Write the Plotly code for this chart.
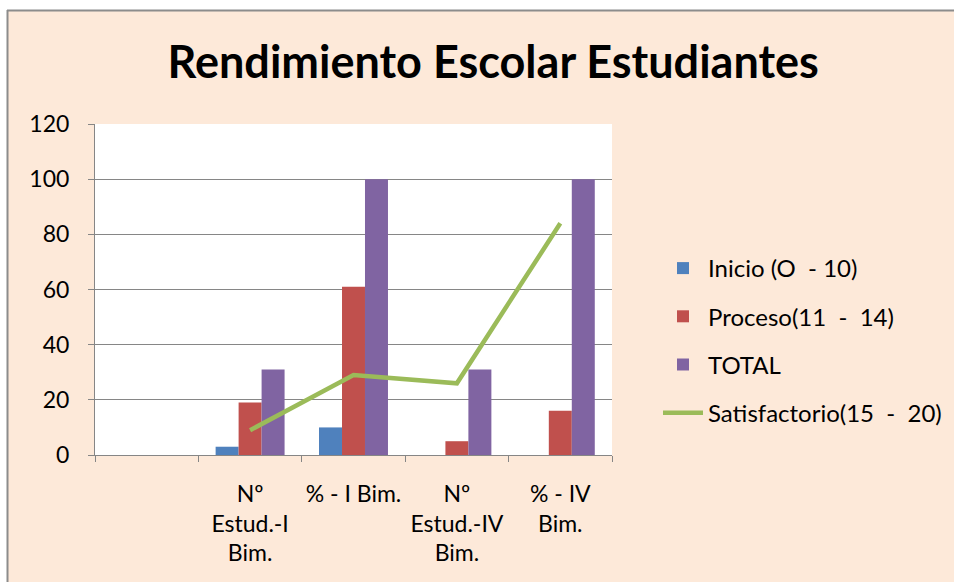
import plotly.graph_objects as go

categories = [" ", "Nº<br>Estud.-I<br>Bim.", "% - I Bim.", "Nº<br>Estud.-IV<br>Bim.", "% - IV<br>Bim."]
inicio = [0, 3, 10, 0, 0]
proceso = [0, 19, 61, 5, 16]
total = [0, 31, 100, 31, 100]
satisfactorio = [None, 9, 29, 26, 84]

series_names = ["Inicio (O\u00a0 - 10)", "Proceso(11\u00a0 -\u00a0 14)", "TOTAL", "Satisfactorio(15\u00a0 -\u00a0 20)"]
colors = ["#4F81BD", "#C0504D", "#8064A2", "#9BBB59"]

FONT = "Lato"
W, H = 954, 582
L, R, T, B = 95, 612, 124, 455

fig = go.Figure()
for name, vals, c in zip(series_names[:3], [inicio, proceso, total], colors[:3]):
    fig.add_trace(go.Bar(x=categories, y=vals, name=name, marker=dict(color=c, line=dict(width=0)),
                         legendgroup=name))
fig.add_trace(go.Scatter(x=categories, y=satisfactorio, name=series_names[3], mode="lines",
                         line=dict(color=colors[3], width=4.5), legendgroup=series_names[3]))

def px_x(p):
    return (p - L) / (R - L)

def px_y(p):
    return (B - p) / (B - T)

shapes = [
    dict(type="rect", xref="paper", yref="paper", x0=px_x(0), x1=px_x(W), y0=px_y(10), y1=px_y(0),
         fillcolor="white", line=dict(width=0), layer="below"),
    dict(type="rect", xref="paper", yref="paper", x0=px_x(0), x1=px_x(7), y0=px_y(H), y1=px_y(0),
         fillcolor="white", line=dict(width=0), layer="below"),
    dict(type="line", xref="paper", yref="paper", x0=px_x(7), x1=px_x(W), y0=px_y(10.5), y1=px_y(10.5),
         line=dict(color="#8C8C8C", width=2)),
    dict(type="line", xref="paper", yref="paper", x0=px_x(7.5), x1=px_x(7.5), y0=px_y(10), y1=px_y(H),
         line=dict(color="#8C8C8C", width=2)),
]

fig.update_layout(
    width=W, height=H,
    margin=dict(l=L, r=W - R, t=T, b=H - B, pad=0, autoexpand=False),
    paper_bgcolor="#FDE9D9",
    plot_bgcolor="white",
    barmode="group", bargap=0.333, bargroupgap=0,
    title=dict(text="<b>Rendimiento Escolar Estudiantes</b>", x=0.517, xref="container", xanchor="center",
               y=1 - 62 / H, yref="container", yanchor="middle",
               font=dict(family=FONT, size=45, color="black")),
    font=dict(family=FONT, size=23, color="black"),
    legend=dict(x=px_x(658), xanchor="left", y=px_y(246), yanchor="top",
                font=dict(family=FONT, size=24, color="black"),
                bgcolor="rgba(0,0,0,0)", tracegroupgap=14, itemwidth=40),
    shapes=shapes,
    showlegend=True,
)
fig.update_xaxes(showline=True, linecolor="#868686", linewidth=1, ticks="outside", tickson="boundaries",
                 ticklen=6, tickcolor="#868686", showgrid=False, tickfont=dict(size=23),
                 ticklabelstandoff=18, tickangle=0, automargin=False)
fig.update_yaxes(range=[0, 120], dtick=20, showline=True, linecolor="#868686", linewidth=1,
                 ticks="outside", ticklen=6, tickcolor="#868686", gridcolor="#868686", gridwidth=1,
                 tickfont=dict(size=23), zeroline=False, ticklabelstandoff=14, automargin=False)

fig.write_html("out.html", config={"displayModeBar": False},
               post_script="document.body.style.margin='0';")
